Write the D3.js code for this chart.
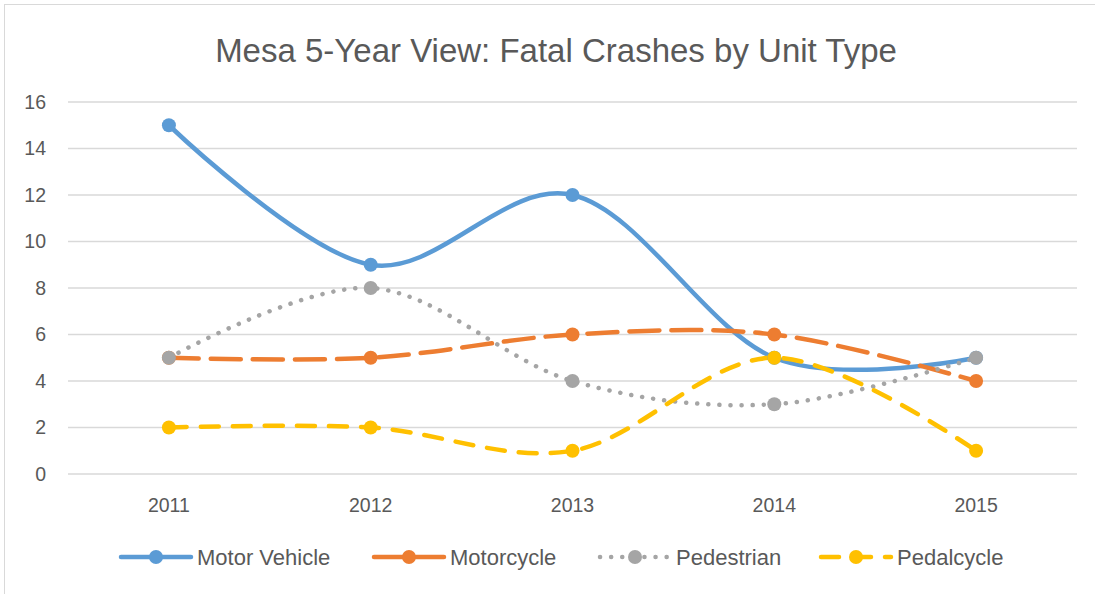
<!DOCTYPE html>
<html>
<head>
<meta charset="utf-8">
<script src="https://cdn.jsdelivr.net/npm/d3@7"></script>
<style>
  body { margin: 0; background: #fff; }
  svg { display: block; font-family: "Liberation Sans", sans-serif; }
</style>
</head>
<body>
<svg id="chart" width="1095" height="594"></svg>
<script>
// chart data
const years = ["2011", "2012", "2013", "2014", "2015"];
const motorVehicle = [15, 9, 12, 5, 5];
const motorcycle = [5, 5, 6, 6, 4];
const pedestrian = [5, 8, 4, 3, 5];
const pedalcycle = [2, 2, 1, 5, 1];
const yTicks = [0, 2, 4, 6, 8, 10, 12, 14, 16];

const series = [
    { name: "Motor Vehicle", values: motorVehicle, color: "#5B9BD5", dash: null, legendX: 156 },
    { name: "Motorcycle", values: motorcycle, color: "#ED7D31", dash: "30,12", legendX: 409 },
    { name: "Pedestrian", values: pedestrian, color: "#A5A5A5", dash: "0.1,11", legendX: 635 },
    { name: "Pedalcycle", values: pedalcycle, color: "#FFC000", dash: "18,14", legendX: 856 }
];

const svg = d3.select("#chart");
const textColor = "#595959";

// outer chart border
svg.append("rect")
    .attr("x", 4.5).attr("y", 4.5)
    .attr("width", 1100).attr("height", 600)
    .attr("fill", "none")
    .attr("stroke", "#D9D9D9");

svg.append("text")
    .attr("x", 556).attr("y", 62)
    .attr("text-anchor", "middle")
    .attr("font-size", 33)
    .attr("fill", textColor)
    .text("Mesa 5-Year View: Fatal Crashes by Unit Type");

const x = d3.scaleBand().domain(years).range([68, 1077]);
const y = d3.scaleLinear().domain([0, 16]).range([474, 102]);
const cx = d => x(d) + x.bandwidth() / 2;

// gridlines
svg.append("g")
    .selectAll("line")
    .data(yTicks)
    .join("line")
    .attr("x1", 68).attr("x2", 1077)
    .attr("y1", d => y(d)).attr("y2", d => y(d))
    .attr("stroke", "#D9D9D9")
    .attr("stroke-width", 1.3);

// y axis labels
const yAxis = svg.append("g")
    .attr("transform", "translate(46,0)")
    .call(d3.axisLeft(y).tickValues(yTicks).tickSize(0).tickPadding(0));
yAxis.select(".domain").remove();
yAxis.selectAll("text")
    .attr("font-size", 19.5)
    .attr("font-family", "Liberation Sans, sans-serif")
    .attr("fill", textColor);

// x axis labels
const xAxis = svg.append("g")
    .attr("transform", "translate(0,498)")
    .call(d3.axisBottom(x).tickSize(0).tickPadding(0));
xAxis.select(".domain").remove();
xAxis.selectAll("text")
    .attr("font-size", 19.5)
    .attr("font-family", "Liberation Sans, sans-serif")
    .attr("fill", textColor);

const line = d3.line()
    .x((d, i) => cx(years[i]))
    .y(d => y(d))
    .curve(d3.curveCardinal.tension(0));

const lines = svg.append("g");
series.forEach(s => {
    lines.append("path")
        .datum(s.values)
        .attr("d", line)
        .attr("fill", "none")
        .attr("stroke", s.color)
        .attr("stroke-width", 4.5)
        .attr("stroke-linecap", "round")
        .attr("stroke-dasharray", s.dash);
});

const markers = svg.append("g");
series.forEach(s => {
    markers.append("g")
        .selectAll("circle")
        .data(s.values)
        .join("circle")
        .attr("cx", (d, i) => cx(years[i]))
        .attr("cy", d => y(d))
        .attr("r", 7)
        .attr("fill", s.color);
});

// legend
const legend = svg.append("g").attr("transform", "translate(0,557)");
series.forEach(s => {
    legend.append("line")
        .attr("x1", s.legendX - 35).attr("x2", s.legendX + 35)
        .attr("stroke", s.color)
        .attr("stroke-width", 4.5)
        .attr("stroke-linecap", "round")
        .attr("stroke-dasharray", s.dash);
    legend.append("circle")
        .attr("cx", s.legendX)
        .attr("r", 7)
        .attr("fill", s.color);
    legend.append("text")
        .attr("x", s.legendX + 41)
        .attr("y", 8)
        .attr("font-size", 22)
        .attr("fill", textColor)
        .text(s.name);
});
</script>
</body>
</html>
